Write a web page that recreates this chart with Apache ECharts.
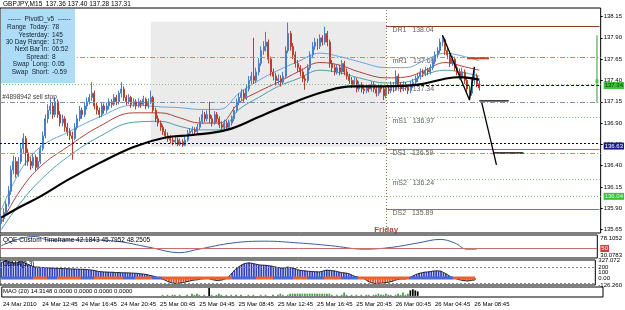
<!DOCTYPE html>
<html>
<head>
<meta charset="utf-8">
<script src="https://cdn.jsdelivr.net/npm/echarts@6.0.0/dist/echarts.min.js"></script>
<style>
  html, body { margin: 0; padding: 0; background: #fff; }
  #chart { width: 625px; height: 310px; }
</style>
</head>
<body>
<div id="chart"></div>
<script>
const FONT = 'Liberation Sans';
const nBars = 245; // 196 real bars + empty shift area on the right

// time axis labels (every 16 bars = 4 hours on M15)
const tickIdx = [0, 16, 32, 48, 64, 80, 96, 112, 128, 144, 160, 176, 192];
const tickLabels = ['24 Mar 2010', '24 Mar 12:45', '24 Mar 16:45', '24 Mar 20:45', '25 Mar 00:45',
  '25 Mar 04:45', '25 Mar 08:45', '25 Mar 12:45', '25 Mar 16:45', '25 Mar 20:45',
  '26 Mar 00:45', '26 Mar 04:45', '26 Mar 08:45'];

const priceTicks = [135.65, 135.90, 136.15, 136.40, 136.65, 136.90, 137.15, 137.40, 137.65, 137.90, 138.15];

// [open, close, low, high]
const candles = [
  [135.72,135.78,135.68,135.82],[135.78,135.85,135.74,135.90],[135.85,135.95,135.82,135.99],[135.95,136.10,135.92,136.16],
  [136.10,136.35,136.06,136.40],[136.35,136.45,136.30,136.52],[136.45,136.30,136.26,136.50],[136.30,136.45,136.27,136.50],
  [136.45,136.60,136.42,136.66],[136.60,136.72,136.55,136.78],[136.72,136.55,136.40,136.75],[136.55,136.45,136.40,136.60],
  [136.45,136.40,136.35,136.50],[136.40,136.50,136.37,136.55],[136.50,136.38,136.34,136.53],[136.38,136.45,136.35,136.50],
  [136.45,136.60,136.42,136.64],[136.60,136.75,136.57,136.80],[136.75,136.95,136.72,137.00],[136.95,137.05,136.90,137.12],
  [137.05,137.10,137.00,137.18],[137.10,137.00,136.95,137.14],[137.00,137.15,136.97,137.20],[137.15,137.00,136.96,137.18],
  [137.00,136.90,136.86,137.04],[136.90,136.95,136.86,137.00],[136.95,136.85,136.80,136.98],[136.85,136.80,136.75,136.90],
  [136.80,136.75,136.70,136.84],[136.75,136.72,136.47,136.80],[136.72,136.85,136.70,136.90],[136.85,136.95,136.82,137.00],
  [136.95,137.05,136.92,137.10],[137.05,137.00,136.95,137.08],[137.00,137.10,136.97,137.15],[137.10,137.15,137.06,137.20],
  [137.15,137.20,137.12,137.24],[137.20,137.25,137.16,137.38],[137.25,137.10,137.06,137.28],[137.10,137.05,137.00,137.14],
  [137.05,137.00,136.96,137.08],[137.00,137.10,136.97,137.14],[137.10,137.05,137.01,137.13],[137.05,137.10,137.02,137.14],
  [137.10,137.15,137.06,137.19],[137.15,137.12,137.08,137.18],[137.12,137.20,137.10,137.24],[137.20,137.15,137.11,137.23],
  [137.15,137.25,137.12,137.28],[137.25,137.30,137.20,137.38],[137.30,137.20,137.16,137.33],[137.20,137.15,137.11,137.23],
  [137.15,137.20,137.12,137.24],[137.20,137.12,137.08,137.22],[137.12,137.15,137.09,137.19],[137.15,137.10,137.06,137.18],
  [137.10,137.15,137.08,137.19],[137.15,137.12,137.08,137.17],[137.12,137.18,137.10,137.22],[137.18,137.10,137.06,137.20],
  [137.10,137.15,137.07,137.19],[137.15,137.20,137.12,137.28],[137.20,137.05,137.02,137.22],[137.05,136.95,136.91,137.08],
  [136.95,136.90,136.86,136.99],[136.90,136.85,136.81,136.93],[136.85,136.80,136.76,136.88],[136.80,136.75,136.71,136.83],
  [136.75,136.72,136.68,136.79],[136.72,136.70,136.66,136.76],[136.70,136.68,136.64,136.74],[136.68,136.70,136.65,136.74],
  [136.70,136.65,136.63,136.73],[136.65,136.68,136.63,136.72],[136.68,136.64,136.62,136.71],[136.64,136.70,136.63,136.74],
  [136.70,136.78,136.68,136.82],[136.78,136.80,136.75,136.84],[136.80,136.82,136.77,136.86],[136.82,136.80,136.76,136.85],
  [136.80,136.85,136.77,136.89],[136.85,136.92,136.82,136.97],[136.92,137.00,136.89,137.05],[137.00,136.95,136.91,137.03],
  [136.95,137.00,136.92,137.05],[137.00,136.95,136.90,137.15],[136.95,136.90,136.86,136.99],[136.90,137.00,136.88,137.04],
  [137.00,136.95,136.91,137.03],[136.95,136.88,136.84,136.98],[136.88,136.85,136.81,136.92],[136.85,136.90,136.82,136.94],
  [136.90,136.85,136.81,136.93],[136.85,136.90,136.83,136.94],[136.90,136.95,136.87,136.99],[136.95,137.05,136.92,137.09],
  [137.05,137.15,137.02,137.19],[137.15,137.20,137.11,137.25],[137.20,137.25,137.16,137.30],[137.25,137.20,137.15,137.29],
  [137.20,137.30,137.17,137.35],[137.30,137.40,137.27,137.45],[137.40,137.45,137.36,137.50],[137.45,137.40,137.36,137.90],
  [137.40,137.50,137.37,137.55],[137.50,137.60,137.46,137.66],[137.60,137.75,137.57,137.80],[137.75,137.80,137.70,137.86],
  [137.80,137.85,137.74,137.97],[137.85,137.65,137.60,137.88],[137.65,137.50,137.45,137.68],[137.50,137.45,137.40,137.54],
  [137.45,137.40,137.34,137.49],[137.40,137.42,137.35,137.47],[137.42,137.38,137.33,137.46],[137.38,137.45,137.35,137.50],
  [137.45,137.75,137.42,137.80],[137.75,137.95,137.72,138.08],[137.95,137.80,137.75,137.98],[137.80,137.70,137.65,137.84],
  [137.70,137.60,137.55,137.74],[137.60,137.55,137.50,137.64],[137.55,137.50,137.45,137.58],[137.50,137.42,137.38,137.54],
  [137.42,137.40,137.29,137.46],[137.40,137.55,137.37,137.59],[137.55,137.70,137.52,137.74],[137.70,137.80,137.66,137.85],
  [137.80,137.85,137.76,137.90],[137.85,137.80,137.76,137.89],[137.80,137.90,137.77,137.94],[137.90,137.85,137.81,137.93],
  [137.85,137.95,137.82,138.03],[137.95,137.85,137.80,137.98],[137.85,137.60,137.55,137.88],[137.60,137.55,137.50,137.64],
  [137.55,137.50,137.46,137.59],[137.50,137.55,137.47,137.59],[137.55,137.50,137.46,137.58],[137.50,137.60,137.47,137.64],
  [137.60,137.50,137.46,137.63],[137.50,137.45,137.41,137.54],[137.45,137.40,137.36,137.48],[137.40,137.35,137.31,137.44],
  [137.35,137.40,137.32,137.44],[137.40,137.30,137.26,137.43],[137.30,137.35,137.27,137.39],[137.35,137.30,137.26,137.38],
  [137.30,137.28,137.24,137.34],[137.28,137.32,137.25,137.36],[137.32,137.30,137.26,137.35],[137.30,137.35,137.27,137.39],
  [137.35,137.30,137.26,137.38],[137.30,137.25,137.21,137.33],[137.25,137.32,137.22,137.36],[137.32,137.30,137.26,137.35],
  [137.30,137.22,137.17,137.33],[137.22,137.30,137.19,137.34],[137.30,137.28,137.24,137.33],[137.28,137.35,137.25,137.39],
  [137.35,137.30,137.26,137.38],[137.30,137.45,137.28,137.52],[137.45,137.35,137.31,137.48],[137.35,137.30,137.26,137.38],
  [137.30,137.35,137.27,137.39],[137.35,137.32,137.28,137.38],[137.32,137.28,137.24,137.35],[137.28,137.35,137.25,137.39],
  [137.35,137.38,137.31,137.42],[137.38,137.42,137.34,137.46],[137.42,137.45,137.38,137.49],[137.45,137.50,137.41,137.54],
  [137.50,137.48,137.44,137.53],[137.48,137.52,137.45,137.56],[137.52,137.50,137.46,137.55],[137.50,137.55,137.47,137.59],
  [137.55,137.62,137.52,137.66],[137.62,137.70,137.59,137.74],[137.70,137.75,137.66,137.79],[137.75,137.85,137.72,137.89],
  [137.85,137.88,137.80,137.93],[137.88,137.75,137.70,137.90],[137.75,137.70,137.65,137.78],[137.70,137.60,137.56,137.73],
  [137.60,137.65,137.57,137.69],[137.65,137.55,137.51,137.68],[137.55,137.50,137.46,137.58],[137.50,137.45,137.41,137.54],
  [137.45,137.50,137.42,137.55],[137.50,137.40,137.36,137.53],[137.40,137.30,137.26,137.43],[137.30,137.25,137.17,137.34],
  [137.25,137.40,137.22,137.44],[137.40,137.45,137.36,137.52],[137.45,137.36,137.32,137.48],[137.36,137.31,137.28,137.40]
];

// moving averages, read at sample bars
const maIdx   = [0, 8, 16, 27, 40, 54, 65, 73, 81, 89, 97, 105, 113, 121, 130, 138, 146, 157, 165, 173, 181, 189, 195];
const envUp   = [135.88,136.35,136.62,136.79,136.97,137.11,137.09,137.08,137.06,137.06,137.25,137.40,137.52,137.62,137.72,137.68,137.62,137.55,137.55,137.64,137.72,137.68,137.63];
const envMid  = [135.73,136.12,136.39,136.62,136.86,137.02,137.02,136.96,136.90,136.90,137.14,137.27,137.38,137.50,137.61,137.58,137.50,137.43,137.44,137.52,137.61,137.56,137.52];
const envLow  = [135.65,135.97,136.23,136.50,136.74,136.91,136.92,136.86,136.82,136.82,137.06,137.20,137.33,137.42,137.52,137.49,137.43,137.37,137.38,137.47,137.52,137.49,137.45];
const slowIdx = [0, 8, 16, 27, 40, 54, 67, 78, 92, 105, 119, 132, 143, 157, 170, 181, 187, 195];
const slowMa  = [135.79,135.92,136.04,136.23,136.43,136.62,136.73,136.76,136.82,136.97,137.14,137.27,137.33,137.33,137.35,137.42,137.44,137.41];

// QQE sub window
const qqeIdx = [0, 8, 14, 20, 34, 47, 61, 73, 81, 95, 108, 122, 135, 149, 160, 171, 180, 186, 191, 195];
const qqeVal = [55.9, 70.7, 75.0, 67.0, 68.0, 65.2, 52.2, 41.2, 48.5, 61.5, 65.2, 61.5, 55.9, 48.5, 52.2, 61.5, 68.9, 61.5, 48.5, 48.5];

// histogram sub window (one value per bar)
const histo = [
  280,300,320,300,290,280,270,290,300,290,270,250,230,210,200,200,195,190,190,185,185,
  180,178,175,175,172,170,170,168,165,165,160,160,158,158,155,150,145,140,130,120,115,
  112,110,108,105,105,100,100,98,95,95,95,92,90,88,85,80,75,70,62,50,40,30,15,0,-15,
  -30,-50,-70,-85,-95,-100,-95,-90,-80,-70,-60,-50,-40,-35,-30,-20,-15,-10,-5,-20,-30,-40,
  -45,-40,-35,-20,0,40,90,140,180,210,240,260,270,275,270,260,250,240,235,234,230,225,
  220,210,200,190,185,180,190,200,190,180,170,150,140,135,130,125,120,118,115,113,112,
  120,135,144,140,135,130,120,110,100,95,90,80,60,40,25,15,5,0,-30,-60,-80,-95,-100,-95,
  -95,-90,-85,-80,-70,-60,-40,-30,-20,-15,-20,-10,0,30,50,70,85,95,105,110,113,120,128,
  131,130,125,100,80,50,23,10,-10,-25,-36,-45,-50,-55,-45,-40,-35
];
// colour runs of the zero band: [from bar, to bar, 'b' blue | 'r' red]
const bandRuns = [
  [0, 13, 'b'], [13, 19, 'r'], [19, 23, 'b'], [23, 33, 'r'], [33, 38, 'b'], [38, 50, 'r'], [50, 55, 'b'],
  [55, 62, 'r'], [62, 66, 'b'], [66, 95, 'r'], [95, 105, 'b'], [105, 112, 'r'], [112, 120, 'b'],
  [120, 126, 'r'], [126, 133, 'b'], [133, 140, 'r'], [140, 147, 'b'], [147, 168, 'r'], [168, 186, 'b'],
  [186, 196, 'r']
];

// bottom sub window (small bars)
const mao = [
  0,0,0,0,0,0,0,0,0,0,0,0,0,0,0,0,0,0,0,0,0,0,0,0,0,0,0,0,0,0,0,0,0,0,0,0,0,0,0,0,0,0,0,0,0,0,0,0,
  0,0,0,0,0,0,0,0,0,0,0,0,0,0,0,0,0,0.1,0,0.1,0,0.1,0.1,0,0.1,0,0,0.1,0,0.2,0.1,0.2,0.1,0,0.1,0,0.7,0.1,
  0,0.1,0.2,0.1,0,0.1,0,0.1,0,0.1,0,0.1,0,0,0.1,0,0.1,0,0,0.1,0,0.1,0,0,0.1,0,0.1,0.2,0.1,0,
  0.1,0.2,0.2,0.2,0.2,0.2,0.2,0.2,0.2,0.2,0.2,0.2,0.2,0.2,0.2,0.2,0.2,0.2,0.1,0,0.1,0,0.1,0.3,0.1,0,
  0.1,0,0.1,0,0.1,0,0.1,0.1,0,0.1,0.1,0.2,0.1,0.1,0.2,0.1,0.1,0,0.1,0.2,0.1,0.3,0.1,0.2,0.5,0.6,0.5,0.4
];

const cats = [];
for (let i = 0; i < nBars; i++) cats.push(String(i));
const pairs = (xs, ys) => xs.map((x, k) => [x, ys[k]]);

const chart = echarts.init(document.getElementById('chart'), null, { renderer: 'canvas' });

const grids = [
  { left: 0, top: 8, width: 603, height: 225 },
  { left: 0, top: 235, width: 603, height: 23 },
  { left: 0, top: 260, width: 603, height: 25 },
  { left: 0, top: 287, width: 603, height: 10 }
].map(g => Object.assign(g, { show: true, borderColor: '#000', borderWidth: 1, backgroundColor: '#fff' }));

const xAxes = grids.map((g, k) => ({
  type: 'category', gridIndex: k, data: cats, boundaryGap: true,
  axisLine: { show: false }, axisTick: { show: false },
  axisLabel: k === 3 ? {
    show: true, fontFamily: FONT, fontSize: 6, color: '#000', margin: 4, align: 'left',
    interval: (i) => tickIdx.indexOf(i) >= 0,
    formatter: (v, i) => tickLabels[tickIdx.indexOf(i)]
  } : { show: false },
  splitLine: { show: false }
}));

const axisLbl = { fontFamily: FONT, fontSize: 6, color: '#000', margin: 3 };
const yAxes = [
  { type: 'value', gridIndex: 0, position: 'right', min: 135.61, max: 138.25, scale: true,
    axisLine: { show: false }, splitLine: { show: false },
    axisTick: { show: true, length: 2, customValues: priceTicks, lineStyle: { color: '#000' } },
    axisLabel: Object.assign({ customValues: priceTicks, formatter: v => v.toFixed(2) }, axisLbl) },
  { type: 'value', gridIndex: 1, position: 'right', min: 30.0783, max: 78.1052,
    axisLine: { show: false }, splitLine: { show: false }, axisTick: { show: false },
    axisLabel: Object.assign({ customValues: [30.0783, 78.1052], formatter: v => v.toFixed(4),
      verticalAlignMinLabel: 'bottom', verticalAlignMaxLabel: 'top' }, axisLbl) },
  { type: 'value', gridIndex: 2, position: 'right', min: -126.26, max: 327.072,
    axisLine: { show: false }, splitLine: { show: false }, axisTick: { show: false },
    axisLabel: Object.assign({ customValues: [-126.26, 0, 100, 200, 327.072],
      formatter: v => v === 0 ? '0.00' : (Math.abs(v) % 100 === 0 ? String(v) : v.toFixed(3)) }, axisLbl) },
  { type: 'value', gridIndex: 3, position: 'right', min: -0.1, max: 0.8,
    axisLine: { show: false }, splitLine: { show: false }, axisTick: { show: false },
    axisLabel: { show: false } }
];

const dashDot = [5, 2, 1, 2];
const fullLine = (v, color, type, width) => ({ yAxis: v, lineStyle: { color, type, width: width || 1 } });
const partLine = (v, color, type) => [
  { coord: [157, v], lineStyle: { color, type, width: 1 } }, { coord: [nBars - 1, v] }
];
const axisBox = (bg, fg) => ({ show: true, position: 'end', distance: 3, fontFamily: FONT, fontSize: 6,
  color: fg, backgroundColor: bg, padding: [1, 1, 0, 1] });

const pivotLabels = [
  [160, 138.04, 'DR1   138.04'], [160, 137.68, 'mR1   137.69'], [160, 137.34, 'DPP   137.34'],
  [160, 136.97, 'mS1   136.97'], [160, 136.59, 'DS1   136.59'], [160, 136.24, 'mS2   136.24'],
  [160, 135.89, 'DS2   135.89']
];

const series = [
  // Thursday range box, day separator and levels
  { type: 'line', xAxisIndex: 0, yAxisIndex: 0, data: [], z: 1, silent: true,
    markArea: { silent: true, itemStyle: { color: '#ebebeb' },
      data: [[{ coord: [61, 138.09] }, { coord: [157, 136.62] }]] },
    markLine: { silent: true, symbol: ['none', 'none'], label: { show: false },
      data: [
        { xAxis: 157, lineStyle: { color: '#8a7a3a', type: [1, 2], width: 1 } },
        fullLine(137.67, '#c8866a', dashDot),
        fullLine(137.36, '#7cbf7c', [1, 2]),
        fullLine(137.15, '#7f8fb8', dashDot),
        fullLine(136.66, '#000050', [2, 2]),
        fullLine(136.55, '#c8866a', dashDot),
        fullLine(136.04, '#7cbf7c', [1, 2]),
        partLine(138.04, '#8b3a2a', 'solid'),
        partLine(137.34, '#000080', [3, 2]),
        partLine(136.97, '#6fb86f', [1, 2]),
        partLine(136.59, '#4c9a4c', 'solid'),
        partLine(136.24, '#6fb86f', [1, 2]),
        partLine(135.89, '#4c9a4c', 'solid')
      ] } },
  // price-scale boxes
  { type: 'line', xAxisIndex: 0, yAxisIndex: 0, data: [], z: 10, silent: true,
    markLine: { silent: true, symbol: ['none', 'none'], lineStyle: { width: 0 },
      data: [
        { yAxis: 137.34, label: Object.assign(axisBox('#3fbf3f', '#0a3a0a'), { formatter: '137.34' }) },
        { yAxis: 136.63, label: Object.assign(axisBox('#1a1a8c', '#fff'), { formatter: '136.63' }) },
        { yAxis: 136.04, label: Object.assign(axisBox('#3fbf3f', '#d8ffd8'), { formatter: '136.04' }) }
      ] } },
  { name: 'env upper', type: 'line', xAxisIndex: 0, yAxisIndex: 0, data: pairs(maIdx, envUp),
    smooth: 0.4, symbol: 'none', lineStyle: { color: '#6aa6d6', width: 1 }, z: 3 },
  { name: 'env mid', type: 'line', xAxisIndex: 0, yAxisIndex: 0, data: pairs(maIdx, envMid),
    smooth: 0.4, symbol: 'none', lineStyle: { color: '#a8433a', width: 1 }, z: 3 },
  { name: 'env lower', type: 'line', xAxisIndex: 0, yAxisIndex: 0, data: pairs(maIdx, envLow),
    smooth: 0.4, symbol: 'none', lineStyle: { color: '#4f9fa6', width: 1 }, z: 3 },
  { name: 'price', type: 'candlestick', xAxisIndex: 0, yAxisIndex: 0, data: candles, z: 4,
    barWidth: '60%',
    itemStyle: { color: '#5b8fd6', color0: '#c24d3c', borderColor: '#4a7fc6', borderColor0: '#b5402f', borderWidth: 1 } },
  { name: 'slow ma', type: 'line', xAxisIndex: 0, yAxisIndex: 0, data: pairs(slowIdx, slowMa),
    smooth: 0.4, symbol: 'none', lineStyle: { color: '#000', width: 2.2 }, z: 5 },
  // hand-drawn trend lines
  { type: 'line', xAxisIndex: 0, yAxisIndex: 0, symbol: 'none', z: 6, lineStyle: { color: '#000', width: 1.3 },
    data: [[180, 137.93], [191, 137.17], [193, 137.56]] },
  { type: 'line', xAxisIndex: 0, yAxisIndex: 0, symbol: 'none', z: 6, lineStyle: { color: '#000', width: 1.3 },
    data: [[195, 137.16], [207, 137.16]] },
  { type: 'line', xAxisIndex: 0, yAxisIndex: 0, symbol: 'none', z: 6, lineStyle: { color: '#000', width: 1.3 },
    data: [[196, 137.14], [202, 136.41]] },
  { type: 'line', xAxisIndex: 0, yAxisIndex: 0, symbol: 'none', z: 6, lineStyle: { color: '#000', width: 1.3 },
    data: [[201, 136.55], [213, 136.55]] },
  { type: 'line', xAxisIndex: 0, yAxisIndex: 0, symbol: 'none', z: 6, lineStyle: { color: '#d23a20', width: 2 },
    data: [[190, 137.66], [199, 137.66]] },
  { type: 'line', xAxisIndex: 0, yAxisIndex: 0, symbol: 'none', z: 6, lineStyle: { color: '#3a9a3a', width: 1 },
    data: [[243, 137.93], [243, 137.14]] },
  { type: 'scatter', xAxisIndex: 0, yAxisIndex: 0, z: 6, symbol: 'rect', symbolSize: [3, 4],
    itemStyle: { color: '#3fbf3f' }, data: [[243, 137.39]] },
  // level captions
  { type: 'scatter', xAxisIndex: 0, yAxisIndex: 0, z: 2, symbolSize: 0, data: pivotLabels,
    label: { show: true, position: 'right', distance: 0, offset: [-1, 4], fontFamily: FONT, fontSize: 7,
      color: '#333', formatter: p => p.value[2] } },
  { type: 'scatter', xAxisIndex: 0, yAxisIndex: 0, z: 7, symbolSize: 0,
    data: [[0, 137.15, '#4898942 sell stop']],
    label: { show: true, position: 'right', distance: 0, offset: [1, -5], fontFamily: FONT, fontSize: 6.5,
      color: '#000', formatter: p => p.value[2] } },
  { type: 'scatter', xAxisIndex: 0, yAxisIndex: 0, z: 7, symbolSize: 0,
    data: [[157, 135.61, 'Friday']],
    label: { show: true, position: 'top', distance: 0, offset: [0, 1], fontFamily: FONT, fontSize: 8,
      fontWeight: 'bold', color: '#a01818', formatter: p => p.value[2] } },

  // QQE
  { name: 'qqe', type: 'line', xAxisIndex: 1, yAxisIndex: 1, data: pairs(qqeIdx, qqeVal),
    smooth: 0.4, symbol: 'none', lineStyle: { color: '#3b5c9c', width: 1 },
    markLine: { silent: true, symbol: ['none', 'none'],
      data: [{ yAxis: 50, lineStyle: { color: '#c87070', type: 'solid', width: 1 },
        label: Object.assign(axisBox('#d03c3c', '#fff'), { formatter: '50' }) }] } },

  // histogram window
  { name: 'histo', type: 'bar', xAxisIndex: 2, yAxisIndex: 2, barWidth: '70%',
    data: histo.map(v => ({ value: v, itemStyle: { color: v >= 0 ? '#2f3fb8' : '#e0502a' } })),
    markLine: { silent: true, symbol: ['none', 'none'], label: { show: false },
      data: [
        { yAxis: 200, lineStyle: { color: '#888', type: [2, 2], width: 1 } },
        { yAxis: -100, lineStyle: { color: '#888', type: [2, 2], width: 1 } }
      ] } },
  { name: 'histo line', type: 'line', xAxisIndex: 2, yAxisIndex: 2, data: histo, symbol: 'none',
    lineStyle: { color: '#000', width: 0.8 } },
  { name: 'zero band', type: 'line', xAxisIndex: 2, yAxisIndex: 2, data: histo.map((v, i) => [i, 0]), symbol: 'none',
    lineStyle: { width: 3 } },

  // bottom window
  { name: 'mao', type: 'bar', xAxisIndex: 3, yAxisIndex: 3, barWidth: '70%',
    data: mao.map(v => ({ value: v, itemStyle: { color: v > 0.3 ? '#000' : '#3aa03a' } })) }
];

const bandSeries = series.findIndex(s => s.name === 'zero band');

const infoLines = [
  ['Range  Today:', '78'], ['Yesterday:', '145'], ['30 Day Range:', '179'], ['Next Bar In:', '06:52'],
  ['Spread:', '8'], ['Swap  Long:', '0.05'], ['Swap  Short:', '-0.59']
];
const txt = { fontFamily: FONT, fontSize: 6.5, fill: '#102030' };
const graphic = [
  { type: 'rect', left: 1, top: 9, shape: { width: 74, height: 74 }, style: { fill: '#aedcf6' }, z: 20 },
  { type: 'text', left: 8, top: 16, style: Object.assign({ text: '------  PivotD_v5  ------' }, txt), z: 21 },
  { type: 'text', left: 3, top: 1, style: { text: 'GBPJPY,M15  137.36 137.40 137.28 137.31',
    fontFamily: FONT, fontSize: 6.5, fill: '#000' }, z: 21 },
  { type: 'text', left: 3, top: 237, style: { text: 'QQE Custom Timeframe 42.1843 45.7952 48.2505',
    fontFamily: FONT, fontSize: 6.5, fill: '#000' }, z: 21 },
  { type: 'text', left: 3, top: 261, style: { text: 'OsMA(3,3)', fontFamily: FONT, fontSize: 6.5, fill: '#000' }, z: 21 },
  { type: 'text', left: 3, top: 288, style: { text: 'MAO (20) 14.3148 0.0000 0.0000 0.0000 0.0000',
    fontFamily: FONT, fontSize: 6, fill: '#000' }, z: 21 }
];
infoLines.forEach((l, k) => {
  graphic.push({ type: 'text', right: 625 - 49, top: 24 + k * 7.4, style: Object.assign({ text: l[0], align: 'right' }, txt), z: 21 });
  graphic.push({ type: 'text', left: 52, top: 24 + k * 7.4, style: Object.assign({ text: l[1] }, txt), z: 21 });
});

chart.setOption({
  animation: false,
  backgroundColor: '#fff',
  grid: grids,
  xAxis: xAxes,
  yAxis: yAxes,
  visualMap: {
    type: 'piecewise', show: false, dimension: 0, seriesIndex: bandSeries,
    pieces: bandRuns.map(r => ({ gte: r[0], lt: r[1], color: r[2] === 'b' ? '#4a66d8' : '#f0602a' })),
    outOfRange: { color: '#4a66d8' }
  },
  series: series,
  graphic: graphic
});
</script>
</body>
</html>
